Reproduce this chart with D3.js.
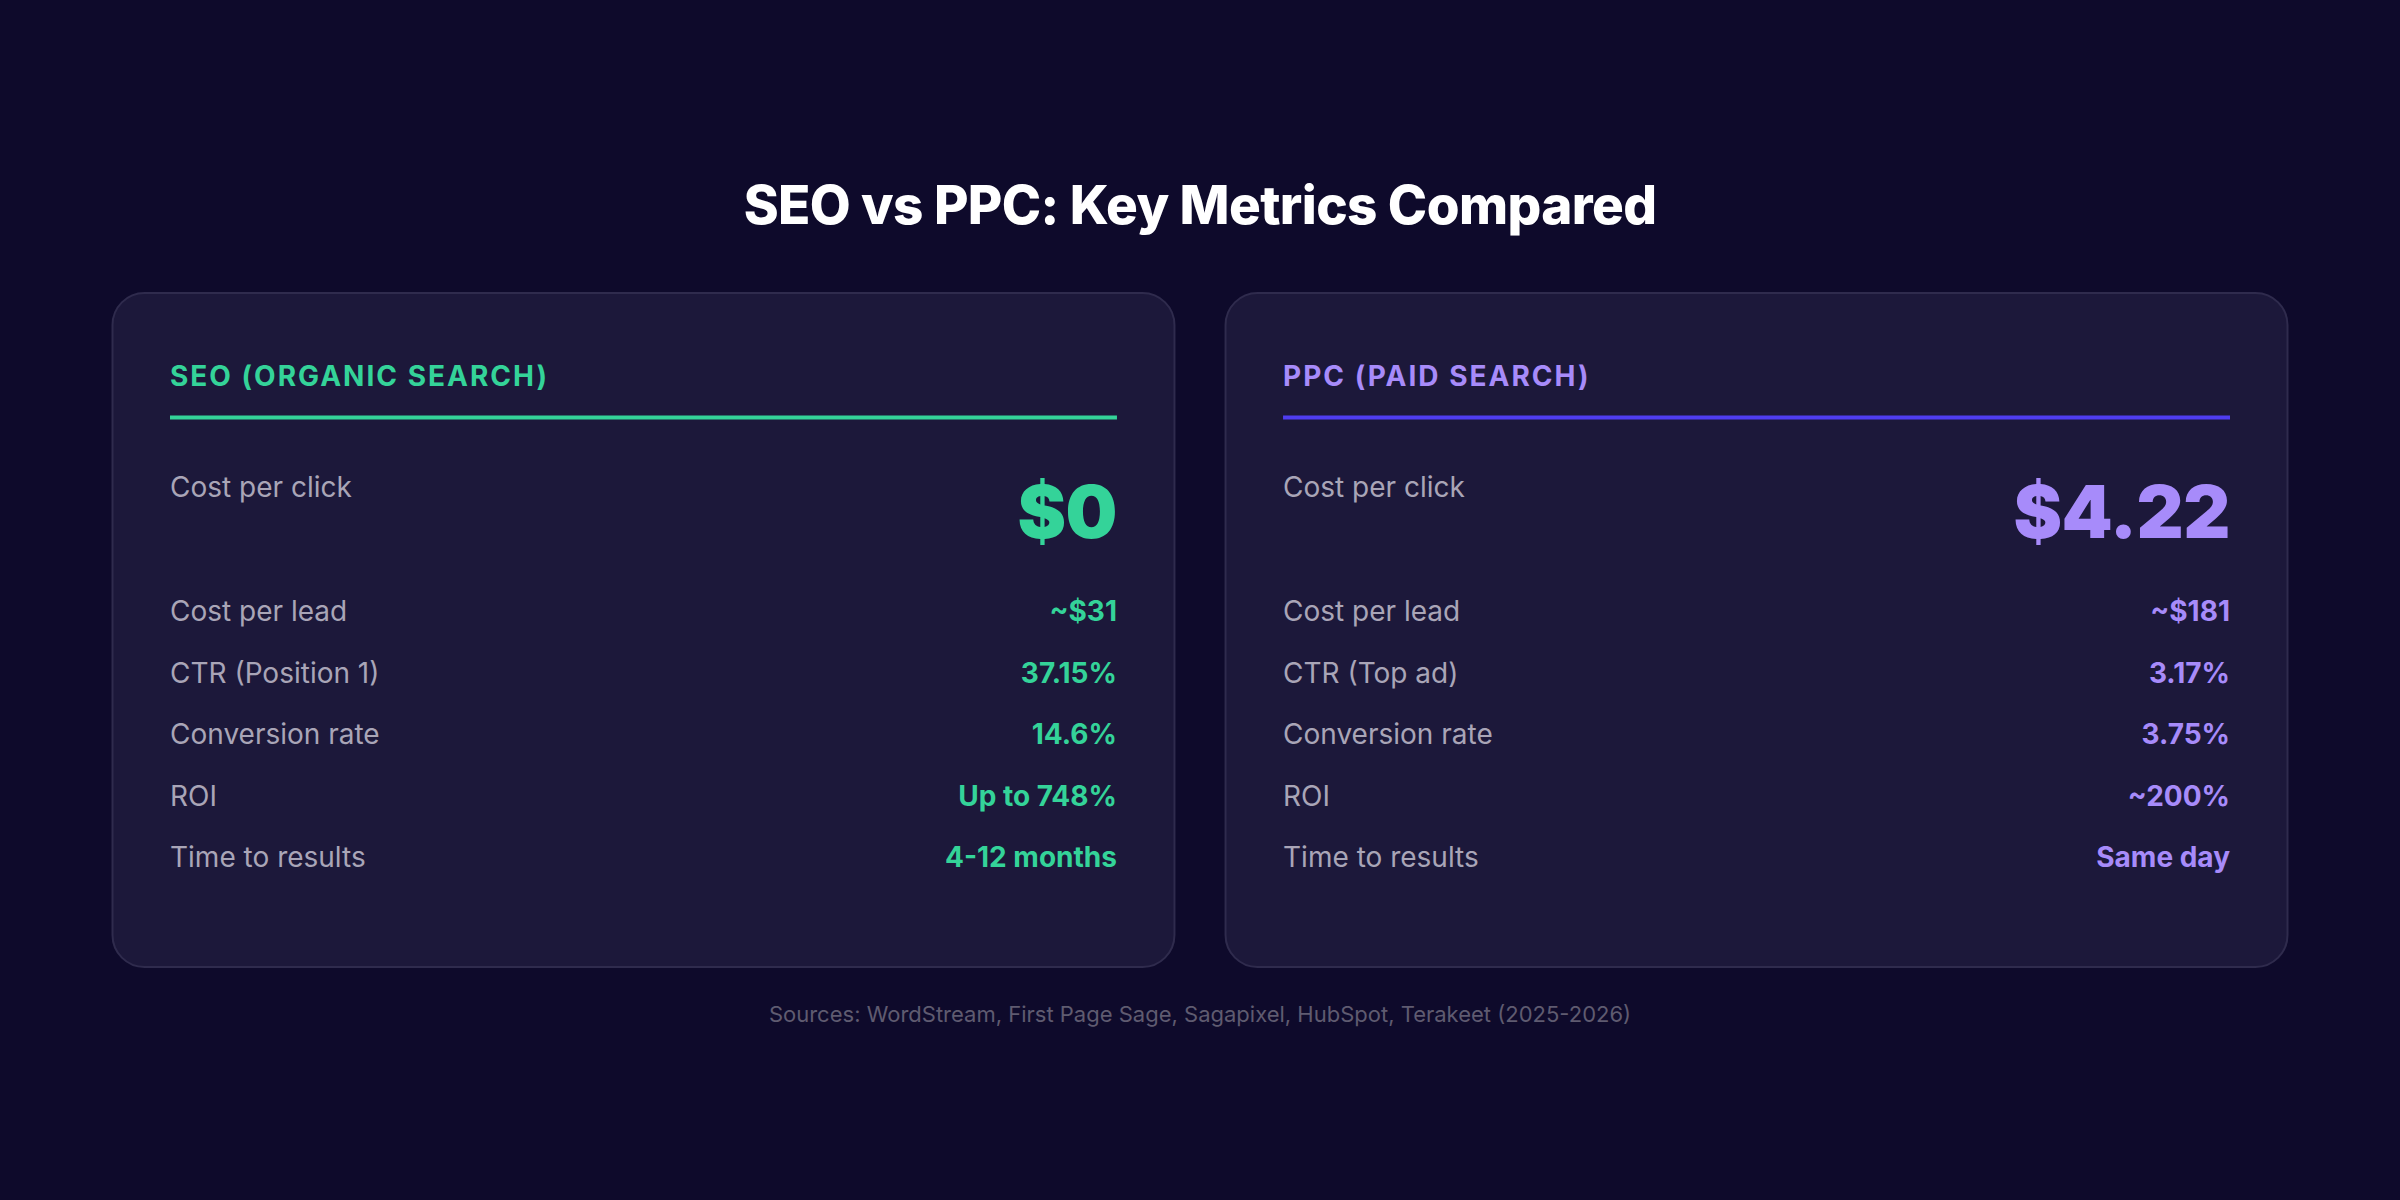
<!DOCTYPE html>
<html>
<head>
<meta charset="utf-8">
<script src="https://cdn.jsdelivr.net/npm/d3@7"></script>
<style>
  html, body { margin: 0; padding: 0; background: #0e0a2b; }
  svg { display: block; font-family: Inter, "Noto Sans", sans-serif; }
</style>
</head>
<body>
<svg id="chart"></svg>
<script>
const width = 2400, height = 1200;

// data
const title = "SEO vs PPC: Key Metrics Compared";
const source = "Sources: WordStream, First Page Sage, Sagapixel, HubSpot, Terakeet (2025-2026)";
const channels = ["SEO (ORGANIC SEARCH)", "PPC (PAID SEARCH)"];
const seoLabels = ["Cost per click", "Cost per lead", "CTR (Position 1)", "Conversion rate", "ROI", "Time to results"];
const seoValues = ["$0", "~$31", "37.15%", "14.6%", "Up to 748%", "4-12 months"];
const ppcLabels = ["Cost per click", "Cost per lead", "CTR (Top ad)", "Conversion rate", "ROI", "Time to results"];
const ppcValues = ["$4.22", "~$181", "3.17%", "3.75%", "~200%", "Same day"];

const textColors = ["#34d399", "#a78bfa"];
const ruleColors = ["#34d399", "#4f3df0"];

const cards = channels.map((name, i) => ({
    name,
    labels: i === 0 ? seoLabels : ppcLabels,
    values: i === 0 ? seoValues : ppcValues,
    text: textColors[i],
    rule: ruleColors[i]
}));

const svg = d3.select("#chart")
    .attr("width", width)
    .attr("height", height);

svg.append("rect")
    .attr("width", width)
    .attr("height", height)
    .attr("fill", "#0e0a2b");

svg.append("text")
    .attr("x", width / 2)
    .attr("y", 224)
    .attr("text-anchor", "middle")
    .attr("fill", "#ffffff")
    .style("font-size", "53px")
    .style("font-weight", 800)
    .style("letter-spacing", "-0.6px")
    .text(title);

// card positions
const x = d3.scaleBand()
    .domain(channels)
    .range([112, 2288])
    .paddingInner(0.045);

const cardTop = 293, cardBottom = 967, pad = 58;

// rows after the big first one
const rowY = d3.scaleLinear().domain([1, 5]).range([621, 867]);

const card = svg.selectAll(".card")
    .data(cards)
    .enter().append("g")
    .attr("class", "card")
    .attr("transform", d => `translate(${x(d.name)},0)`);

card.append("rect")
    .attr("x", 0.5)
    .attr("y", cardTop)
    .attr("width", x.bandwidth() - 1)
    .attr("height", cardBottom - cardTop)
    .attr("rx", 32)
    .attr("fill", "#1c183a")
    .attr("stroke", "#2f2b4d")
    .attr("stroke-width", 2);

card.append("text")
    .attr("x", pad)
    .attr("y", 386)
    .attr("fill", d => d.text)
    .style("font-size", "28px")
    .style("font-weight", 700)
    .style("letter-spacing", "2px")
    .text(d => d.name);

card.append("rect")
    .attr("x", pad)
    .attr("y", 415.5)
    .attr("width", x.bandwidth() - 2 * pad)
    .attr("height", 4)
    .attr("fill", d => d.rule);

// first row: big value
card.append("text")
    .attr("x", pad)
    .attr("y", 497)
    .attr("fill", "#a9a5b7")
    .style("font-size", "28px")
    .text(d => d.labels[0]);

card.append("text")
    .attr("x", x.bandwidth() - pad)
    .attr("y", 538)
    .attr("text-anchor", "end")
    .attr("fill", d => d.text)
    .style("font-size", "73px")
    .style("font-weight", 900)
    .style("letter-spacing", "-0.5px")
    .text(d => d.values[0]);

// other rows
const rows = card.selectAll(".row")
    .data(d => d.labels.slice(1).map((label, i) => ({ label, value: d.values[i + 1], color: d.text, i: i + 1 })))
    .enter().append("g")
    .attr("class", "row");

rows.append("text")
    .attr("x", pad)
    .attr("y", d => rowY(d.i))
    .attr("fill", "#a9a5b7")
    .style("font-size", "28px")
    .text(d => d.label);

rows.append("text")
    .attr("x", x.bandwidth() - pad)
    .attr("y", d => rowY(d.i))
    .attr("text-anchor", "end")
    .attr("fill", d => d.color)
    .style("font-size", "28px")
    .style("font-weight", 700)
    .text(d => d.value);

svg.append("text")
    .attr("x", width / 2)
    .attr("y", 1022)
    .attr("text-anchor", "middle")
    .attr("fill", "#5f5b70")
    .style("font-size", "22px")
    .text(source);
</script>
</body>
</html>
